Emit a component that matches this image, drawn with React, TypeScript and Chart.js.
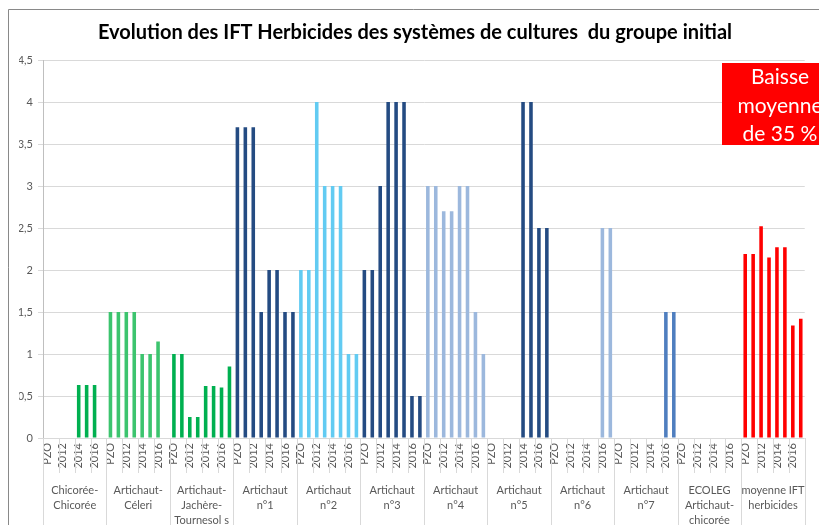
import React, { useEffect, useRef } from "react";
import { Chart, registerables } from "chart.js";

Chart.register(...registerables);

// ---- data ----
const slotLabels = ["PZO", "2011", "2012", "2013", "2014", "2015", "2016", "2017"];
const groupNames: string[][] = [
  ["Chicorée-", "Chicorée"],
  ["Artichaut-", "Céleri"],
  ["Artichaut-", "Jachère-", "Tournesol s"],
  ["Artichaut", "n°1"],
  ["Artichaut", "n°2"],
  ["Artichaut", "n°3"],
  ["Artichaut", "n°4"],
  ["Artichaut", "n°5"],
  ["Artichaut", "n°6"],
  ["Artichaut", "n°7"],
  ["ECOLEG", "Artichaut-", "chicorée"],
  ["moyenne IFT", "herbicides"],
];
const chicoree = [null, null, null, null, 0.63, 0.63, 0.63, null];
const celeri = [1.5, 1.5, 1.5, 1.5, 1.0, 1.0, 1.15, null];
const jachere = [1.0, 1.0, 0.25, 0.25, 0.62, 0.62, 0.6, 0.85];
const artichaut1 = [3.7, 3.7, 3.7, 1.5, 2.0, 2.0, 1.5, 1.5];
const artichaut2 = [2.0, 2.0, 4.0, 3.0, 3.0, 3.0, 1.0, 1.0];
const artichaut3 = [2.0, 2.0, 3.0, 4.0, 4.0, 4.0, 0.5, 0.5];
const artichaut4 = [3.0, 3.0, 2.7, 2.7, 3.0, 3.0, 1.5, 1.0];
const artichaut5 = [null, null, null, null, 4.0, 4.0, 2.5, 2.5];
const artichaut6 = [null, null, null, null, null, null, 2.5, 2.5];
const artichaut7 = [null, null, null, null, null, null, 1.5, 1.5];
const ecoleg = [null, null, null, null, null, null, null, null];
const moyenne = [2.19, 2.19, 2.52, 2.15, 2.27, 2.27, 1.34, 1.42];
const yTicks = [0, 0.5, 1, 1.5, 2, 2.5, 3, 3.5, 4, 4.5];

const groupValues = [
  chicoree, celeri, jachere, artichaut1, artichaut2, artichaut3,
  artichaut4, artichaut5, artichaut6, artichaut7, ecoleg, moyenne,
];
const groupColors = [
  "#00B050", "#3CC46E", "#00B050", "#244B82", "#62CBF2", "#244B82",
  "#9CB8DD", "#244B82", "#9CB8DD", "#4F7EBF", "#244B82", "#FF0000",
];

const FONT = "Lato, 'Open Sans', sans-serif";

const labels: string[] = [];
const values: (number | null)[] = [];
const colors: string[] = [];
groupValues.forEach((g, gi) => {
  g.forEach((v, si) => {
    labels.push(slotLabels[si]);
    values.push(v);
    colors.push(groupColors[gi]);
  });
});

const decor = {
  id: "decor",
  beforeDraw(chart: any) {
    const ctx = chart.ctx;
    ctx.save();
    ctx.fillStyle = "#ffffff";
    ctx.fillRect(0, 0, chart.width, chart.height);
    ctx.strokeStyle = "#898989";
    ctx.lineWidth = 1;
    ctx.beginPath();
    ctx.moveTo(8.5, chart.height);
    ctx.lineTo(8.5, 9.5);
    ctx.lineTo(chart.width, 9.5);
    ctx.stroke();
    ctx.restore();
  },
  afterDraw(chart: any) {
    const ctx = chart.ctx;
    const xs = chart.scales.x;
    const area = chart.chartArea;
    const n = labels.length;
    const step = xs.getPixelForValue(1) - xs.getPixelForValue(0);
    ctx.save();
    ctx.strokeStyle = "#d9d9d9";
    ctx.lineWidth = 1;
    for (let i = 0; i <= n; i++) {
      const b = Math.round(xs.getPixelForValue(Math.min(i, n - 1)) + (i === n ? step / 2 : -step / 2)) + 0.5;
      if (i % 8 === 0) {
        ctx.beginPath();
        ctx.moveTo(b, area.bottom);
        ctx.lineTo(b, chart.height);
        ctx.stroke();
      } else if (i % 2 === 0) {
        ctx.beginPath();
        ctx.moveTo(b, area.bottom);
        ctx.lineTo(b, area.bottom + 35);
        ctx.stroke();
      }
    }
    ctx.fillStyle = "#595959";
    ctx.font = `11px ${FONT}`;
    ctx.textAlign = "center";
    ctx.textBaseline = "middle";
    groupNames.forEach((lines, gi) => {
      const cx = (xs.getPixelForValue(gi * 8) + xs.getPixelForValue(gi * 8 + 7)) / 2;
      lines.forEach((t, k) => {
        ctx.fillText(t, cx, area.bottom + 52 + k * 15);
      });
    });
    // annotation box
    ctx.fillStyle = "#FF0000";
    ctx.fillRect(722, 63, 130, 82);
    ctx.fillStyle = "#ffffff";
    ctx.font = `21px ${FONT}`;
    ctx.fillText("Baisse", 780, 77);
    ctx.fillText("moyenne", 780, 106);
    ctx.fillText("de 35 %", 780, 134);
    ctx.restore();
  },
};

export default function App() {
  const ref = useRef<HTMLCanvasElement>(null);
  useEffect(() => {
    const chart = new Chart(ref.current as HTMLCanvasElement, {
      type: "bar",
      data: {
        labels,
        datasets: [
          {
            label: "IFT Herbicides",
            data: values,
            backgroundColor: colors,
            barPercentage: 0.45,
            categoryPercentage: 1,
          },
        ],
      },
      plugins: [decor],
      options: {
        responsive: false,
        animation: false,
        layout: { padding: { left: 19, right: 8, top: 0, bottom: 0 } },
        plugins: {
          legend: { display: false },
          tooltip: { enabled: false },
          title: {
            display: true,
            text: "Evolution des IFT Herbicides des systèmes de cultures  du groupe initial",
            color: "#000000",
            font: { family: FONT, size: 20, weight: "bold", lineHeight: 1.2 },
            padding: { top: 21, bottom: 15 },
          },
        },
        scales: {
          x: {
            type: "category",
            offset: true,
            grid: { display: false, drawTicks: false },
            border: { display: false },
            ticks: {
              autoSkip: false,
              maxRotation: 90,
              minRotation: 90,
              padding: 5,
              color: "#595959",
              font: { family: FONT, size: 11 },
              callback: (_v: any, idx: number) => (idx % 2 === 0 ? labels[idx] : ""),
            },
            afterFit: (axis: any) => {
              axis.height = 87;
            },
          },
          y: {
            min: 0,
            max: 4.5,
            afterBuildTicks: (axis: any) => {
              axis.ticks = yTicks.map((v) => ({ value: v }));
            },
            grid: { color: "#d9d9d9", tickLength: 5 },
            border: { color: "#bfbfbf" },
            ticks: {
              padding: 5,
              color: "#595959",
              font: { family: FONT, size: 11 },
              callback: (v: any) => String(v).replace(".", ","),
            },
            afterFit: (axis: any) => {
              axis.width = 24;
            },
          },
        },
      },
    });
    return () => chart.destroy();
  }, []);
  return (
    <div
      style={{
        position: "fixed",
        left: 0,
        top: 0,
        width: 819,
        height: 525,
        overflow: "hidden",
        background: "#fff",
      }}
    >
      <canvas ref={ref} width={819} height={525} style={{ display: "block", width: 819, height: 525 }} />
    </div>
  );
}
